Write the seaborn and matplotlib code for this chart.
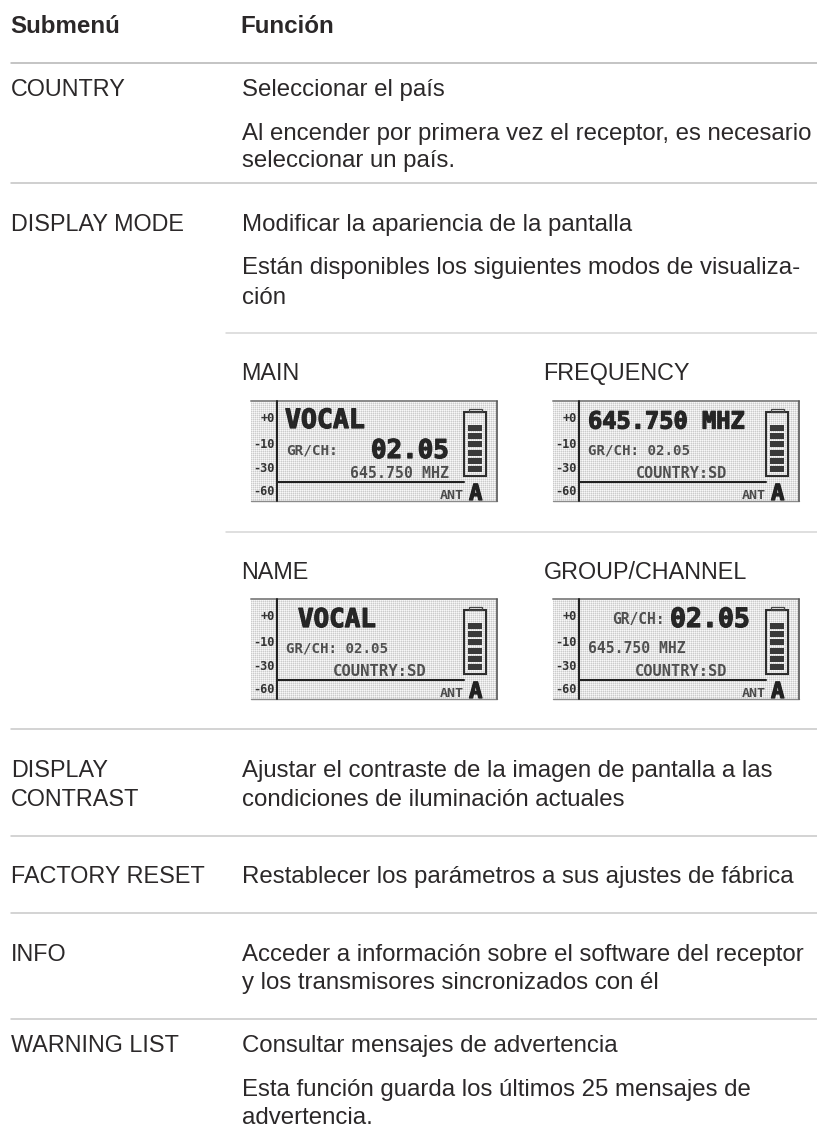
import numpy as np
import pandas as pd
import matplotlib
matplotlib.use("Agg")
import matplotlib.pyplot as plt
import matplotlib.patheffects as pe
from matplotlib.patches import Rectangle
import seaborn as sns

sns.set_theme(style="white")
plt.rcParams['font.family'] = ['Liberation Sans', 'DejaVu Sans']

INK = '#2b2829'
W, H = 817, 1127

HEADERS = [("Submenú", 10.5, 33), ("Función", 240.5, 33)]
LEFT_LABELS = [("COUNTRY", 96), ("DISPLAY MODE", 231), ("DISPLAY", 777), ("CONTRAST", 806),
               ("FACTORY RESET", 883), ("INFO", 961), ("WARNING LIST", 1052)]
RIGHT_LINES = [
    ("Seleccionar el país", 96),
    ("Al encender por primera vez el receptor, es necesario", 140),
    ("seleccionar un país.", 167),
    ("Modificar la apariencia de la pantalla", 231),
    ("Están disponibles los siguientes modos de visualiza-", 274),
    ("ción", 304),
    ("Ajustar el contraste de la imagen de pantalla a las", 777),
    ("condiciones de iluminación actuales", 806),
    ("Restablecer los parámetros a sus ajustes de fábrica", 883),
    ("Acceder a información sobre el software del receptor", 961),
    ("y los transmisores sincronizados con él", 989),
    ("Consultar mensajes de advertencia", 1052),
    ("Esta función guarda los últimos 25 mensajes de", 1096),
    ("advertencia.", 1124),
]
MODE_LABELS = [("MAIN", 241.5, 380), ("FREQUENCY", 543.5, 380), ("NAME", 241.5, 579), ("GROUP/CHANNEL", 543.5, 579)]
RULES_Y = [63, 183, 333, 532, 729, 836, 913, 1019]
RULES_X0 = [11, 11, 226, 226, 11, 11, 11, 11]
RULES_COL = ['#b4b4b4', '#c2c2c2', '#d6d6d6', '#d6d6d6', '#c8c8c8', '#c8c8c8', '#c8c8c8', '#c8c8c8']
RULE_RIGHT = 817

LCD_ORIGINS = [(251, 401), (553, 401), (251, 599), (553, 599)]
LCD_W, LCD_H = 246, 100
SCALE_LEFT = [("+0", 16), ("-10", 42), ("-30", 66), ("-60", 89)]
# text, x0, x1, y-centre offset, heavy  (relative to LCD origin)
LCD_TEXT = [
    [("VOCAL", 34, 114, 17, True), ("GR/CH:", 35, 87, 48, False), ("02.05", 120, 198, 47, True),
     ("645.750 MHZ", 99, 198, 71, False)],
    [("645.750 MHZ", 35, 192, 18, True), ("GR/CH: 02.05", 35, 137, 48, False), ("COUNTRY:SD", 83, 175, 71, False)],
    [("VOCAL", 47, 125, 18, True), ("GR/CH: 02.05", 35, 137, 48, False), ("COUNTRY:SD", 82, 176, 71, False)],
    [("GR/CH:", 59, 112, 19, False), ("02.05", 117, 197, 18, True), ("645.750 MHZ", 35, 133, 48, False),
     ("COUNTRY:SD", 82, 175, 71, False)],
]
BATTERY_CELLS = 6

fig = plt.figure(figsize=(W / 100, H / 100), dpi=100, facecolor='white')
ax = fig.add_axes([0, 0, 1, 1])

rules = pd.DataFrame({
    'x': [v for x0 in RULES_X0 for v in (x0, RULE_RIGHT)],
    'y': [v for y in RULES_Y for v in (y, y)],
    'rule': [i for i in range(len(RULES_Y)) for _ in (0, 1)],
})
sns.lineplot(data=rules, x='x', y='y', hue='rule', palette=RULES_COL, estimator=None,
             sort=False, legend=False, linewidth=1.1, ax=ax)

ax.set_xlim(0, W)
ax.set_ylim(H, 0)
ax.axis('off')

TXT = dict(color=INK, va='baseline', ha='left')
for s, x, y in HEADERS:
    ax.text(x, y, s, fontweight='bold', fontsize=17.4, **TXT)
for s, y in LEFT_LABELS:
    ax.text(11, y, s, fontsize=16.8, **TXT)
for s, y in RIGHT_LINES:
    ax.text(242, y, s, fontsize=17.25, **TXT)
for s, x, y in MODE_LABELS:
    ax.text(x, y, s, fontsize=16.8, **TXT)

# LCD texture: a 2-pixel dot raster
tex = np.array([[0.80, 0.90], [0.90, 0.97]])


def fit(s, x0, x1, yc, heavy):
    col = '#262626' if heavy else '#505050'
    t = ax.text(x0, yc, s, family='DejaVu Sans Mono', fontweight='bold',
                fontsize=10, color=col, va='center_baseline', ha='left', zorder=5)
    if heavy:
        t.set_path_effects([pe.withStroke(linewidth=0.9, foreground=col)])
    r = fig.canvas.get_renderer()
    w = t.get_window_extent(r).width
    t.set_fontsize(10 * (x1 - x0) / w)


for (ox, oy), items in zip(LCD_ORIGINS, LCD_TEXT):
    ax.imshow(np.tile(tex, (LCD_H // 2, LCD_W // 2)), cmap='gray', vmin=0, vmax=1,
              extent=(ox, ox + LCD_W, oy + LCD_H, oy), interpolation='nearest', aspect='auto', zorder=1)
    ax.plot([ox, ox + LCD_W], [oy, oy], color='#8a8a8a', lw=1.4, zorder=3)
    ax.plot([ox, ox + LCD_W], [oy + LCD_H, oy + LCD_H], color='#8a8a8a', lw=1.0, zorder=3)
    ax.plot([ox + LCD_W, ox + LCD_W], [oy, oy + LCD_H], color='#555555', lw=1.2, zorder=3)
    ax.plot([ox + 26, ox + 26], [oy, oy + LCD_H], color='#222222', lw=1.5, zorder=3)
    ax.plot([ox + 26, ox + 213], [oy + 81, oy + 81], color='#222222', lw=1.5, zorder=3)
    for s, dy in SCALE_LEFT:
        ax.text(ox + 24, oy + dy, s, family='DejaVu Sans Mono', fontweight='bold', fontsize=8.6,
                color='#333333', ha='right', va='center_baseline', zorder=5)
    # battery
    ax.add_patch(Rectangle((ox + 213, oy + 11), 22, 64, fc='none', ec='#2e2e2e', lw=1.5, zorder=4))
    ax.add_patch(Rectangle((ox + 218, oy + 8), 13, 3, fc='none', ec='#444444', lw=0.9, zorder=4))
    for i in range(BATTERY_CELLS):
        ax.add_patch(Rectangle((ox + 217, oy + 24 + i * 8.2), 14, 6, fc='#3a3a3a', ec='none', zorder=4))
    ax.text(ox + 213, oy + 93, "ANT", family='DejaVu Sans Mono', fontweight='bold', fontsize=9.6,
            color='#4a4a4a', ha='right', va='center_baseline', zorder=5)
    ax.text(ox + 218, oy + 91, "A", family='DejaVu Sans Mono', fontweight='bold', fontsize=16,
            color='#222222', ha='left', va='center_baseline', zorder=5,
            path_effects=[pe.withStroke(linewidth=0.9, foreground='#222222')])
    for s, x0, x1, dy, heavy in items:
        fit(s, ox + x0, ox + x1, oy + dy, heavy)

ax.set_xlim(0, W)
ax.set_ylim(H, 0)
fig.savefig('out.png', dpi=100, facecolor='white')
